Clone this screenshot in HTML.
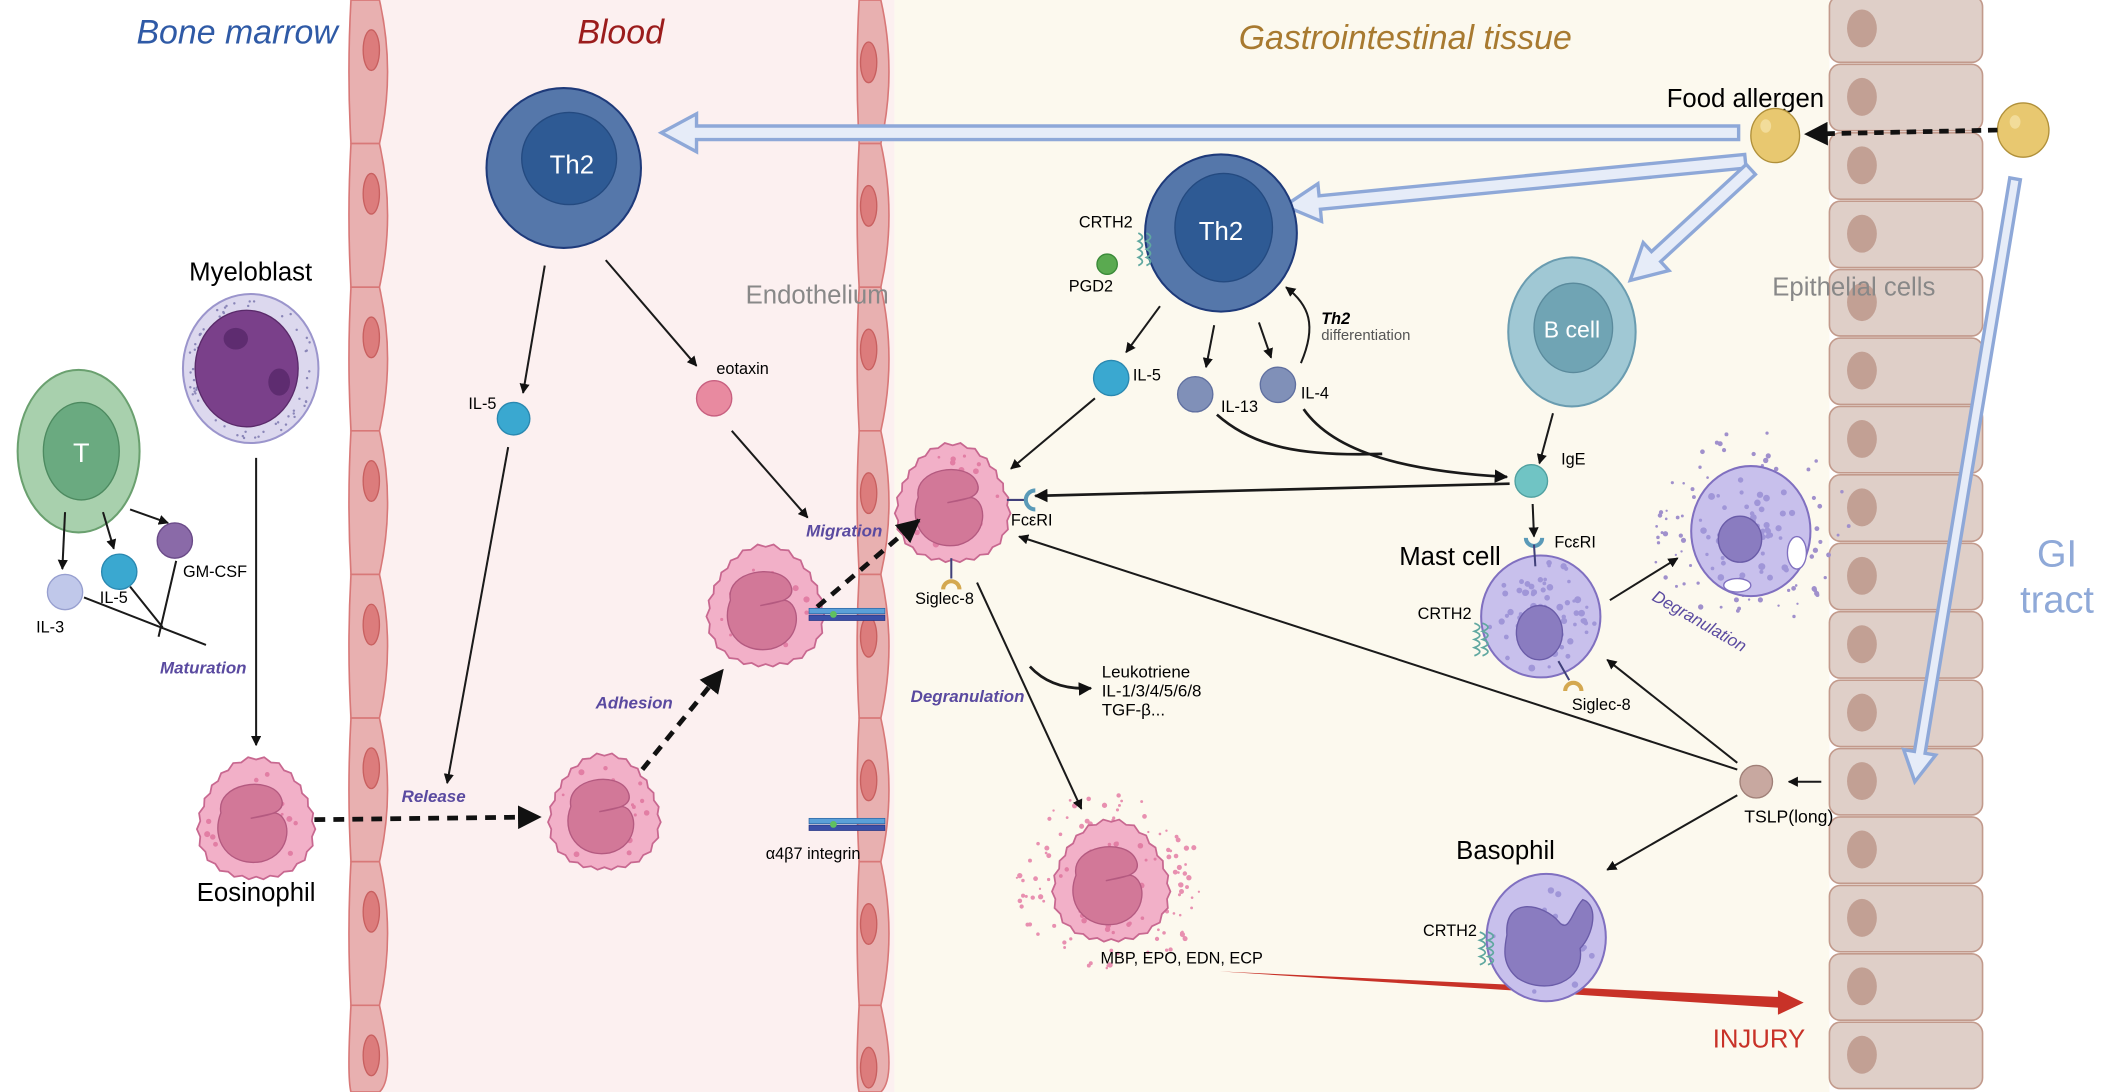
<!DOCTYPE html>
<html><head><meta charset="utf-8"><style>
html,body{margin:0;padding:0;background:#fff;overflow:hidden;width:2114px;height:1092px}
svg{display:block;position:absolute;left:0;top:0;overflow:hidden}
text{font-family:"Liberation Sans",sans-serif}
.it{font-style:italic}
</style></head><body>
<svg id="s" width="2114" height="1092" viewBox="0 0 1560 806" preserveAspectRatio="none" overflow="hidden" xmlns="http://www.w3.org/2000/svg">
<defs>
<marker id="ahb" viewBox="0 0 10 10" refX="9" refY="5" markerWidth="5" markerHeight="5" orient="auto"><path d="M0,0 L10,5 L0,10 z" fill="#111"/></marker>
<clipPath id="cp"><rect x="0" y="0" width="1560" height="806"/></clipPath>
</defs>
<g clip-path="url(#cp)">
<rect x="0" y="0" width="1560" height="806" fill="#fff"/>
<rect x="258" y="0" width="402" height="806" fill="#fcf0f0"/>
<rect x="660" y="0" width="690" height="806" fill="#fcf9ee"/>
<g id="walls"></g>
<g id="epi"></g>

<text x="175" y="32" font-size="25" fill="#2f5aa6" text-anchor="middle" class="it">Bone marrow</text>
<text x="458" y="32" font-size="25" fill="#9b1c1c" text-anchor="middle" class="it">Blood</text>
<text x="1037" y="36" font-size="25" fill="#a87a30" text-anchor="middle" class="it">Gastrointestinal tissue</text>
<text x="603" y="224" font-size="19" fill="#888" text-anchor="middle">Endothelium</text>
<text x="1368" y="218" font-size="19" fill="#888" text-anchor="middle">Epithelial cells</text>
<text x="1518" y="418" font-size="28" fill="#8fa9d8" text-anchor="middle">GI</text>
<text x="1518" y="452" font-size="28" fill="#8fa9d8" text-anchor="middle">tract</text>

<g id="hollow"></g>

<ellipse cx="58" cy="333" rx="45" ry="60" fill="#a8d0ad" stroke="#6aa06f" stroke-width="1.5"/>
<ellipse cx="60" cy="333" rx="28" ry="36" fill="#6aaa80" stroke="#4d8a60"/>
<text x="60" y="341" font-size="20" fill="#fff" text-anchor="middle">T</text>
<line x1="48" y1="378" x2="46" y2="420" stroke="#1a1a1a" stroke-width="1.5" marker-end="url(#ahb)"/>
<line x1="76" y1="378" x2="84" y2="405" stroke="#1a1a1a" stroke-width="1.5" marker-end="url(#ahb)"/>
<line x1="96" y1="376" x2="124" y2="386" stroke="#1a1a1a" stroke-width="1.5" marker-end="url(#ahb)"/>
<circle cx="48" cy="437" r="13" fill="#c0c8ea" stroke="#98a0d0"/>
<circle cx="88" cy="422" r="13" fill="#3aa8d0" stroke="#2a88b0"/>
<circle cx="129" cy="399" r="13" fill="#8a6aa8" stroke="#6a4a88"/>
<text x="37" y="467" font-size="12" text-anchor="middle">IL-3</text>
<text x="84" y="445" font-size="12" text-anchor="middle">IL-5</text>
<text x="135" y="426" font-size="12">GM-CSF</text>
<path d="M62,441 L152,476 M96,433 L120,463 M130,414 L117,470" stroke="#1a1a1a" stroke-width="1.5" fill="none"/>
<text x="150" y="497" font-size="12.5" fill="#5a4aa0" text-anchor="middle" font-weight="bold" class="it">Maturation</text>

<text x="185" y="207" font-size="19" text-anchor="middle">Myeloblast</text>
<ellipse cx="185" cy="272" rx="50" ry="55" fill="#dcd8ee" stroke="#9b95cc" stroke-width="1.5"/>
<g id="mdots"></g>
<ellipse cx="182" cy="272" rx="38" ry="43" fill="#7a408a" stroke="#5a2a6a"/>
<ellipse cx="174" cy="250" rx="9" ry="8" fill="#5e2c70"/>
<ellipse cx="206" cy="282" rx="8" ry="10" fill="#5e2c70"/>
<line x1="189" y1="338" x2="189" y2="550" stroke="#1a1a1a" stroke-width="1.5" marker-end="url(#ahb)"/>
<text x="189" y="665" font-size="19" text-anchor="middle">Eosinophil</text>

<ellipse cx="416" cy="124" rx="57" ry="59" fill="#5577aa" stroke="#1e3a7a" stroke-width="1.5"/>
<ellipse cx="420" cy="117" rx="35" ry="34" fill="#2e5a94" stroke="#244a80"/>
<text x="422" y="128" font-size="19" fill="#fff" text-anchor="middle">Th2</text>
<line x1="402" y1="196" x2="386" y2="290" stroke="#1a1a1a" stroke-width="1.5" marker-end="url(#ahb)"/>
<line x1="447" y1="192" x2="514" y2="270" stroke="#1a1a1a" stroke-width="1.5" marker-end="url(#ahb)"/>
<circle cx="379" cy="309" r="12" fill="#3aa8d0" stroke="#2a88b0"/>
<text x="356" y="302" font-size="12" text-anchor="middle">IL-5</text>
<circle cx="527" cy="294" r="13" fill="#e88aa0" stroke="#c86080"/>
<text x="548" y="276" font-size="12" text-anchor="middle">eotaxin</text>
<line x1="375" y1="330" x2="330" y2="578" stroke="#1a1a1a" stroke-width="1.5" marker-end="url(#ahb)"/>
<line x1="540" y1="318" x2="596" y2="382" stroke="#1a1a1a" stroke-width="1.5" marker-end="url(#ahb)"/>

<g id="eos"></g>

<line x1="232" y1="605" x2="398" y2="603" stroke="#111" stroke-width="3.5" stroke-dasharray="8,6" marker-end="url(#ahb)"/>
<text x="320" y="592" font-size="12.5" fill="#5a4aa0" text-anchor="middle" font-weight="bold" class="it">Release</text>
<line x1="474" y1="568" x2="533" y2="495" stroke="#111" stroke-width="3.5" stroke-dasharray="8,6" marker-end="url(#ahb)"/>
<text x="468" y="523" font-size="12.5" fill="#5a4aa0" text-anchor="middle" font-weight="bold" class="it">Adhesion</text>
<line x1="603" y1="448" x2="678" y2="384" stroke="#111" stroke-width="3.5" stroke-dasharray="8,6" marker-end="url(#ahb)"/>
<text x="623" y="396" font-size="12.5" fill="#5a4aa0" text-anchor="middle" font-weight="bold" class="it">Migration</text>

<g id="integ"></g>
<text x="600" y="634" font-size="12" text-anchor="middle">α4β7 integrin</text>

<ellipse cx="901" cy="172" rx="56" ry="58" fill="#5577aa" stroke="#1e3a7a" stroke-width="1.5"/>
<ellipse cx="903" cy="168" rx="36" ry="40" fill="#2e5a94" stroke="#244a80"/>
<text x="901" y="177" font-size="19" fill="#fff" text-anchor="middle">Th2</text>
<text x="816" y="168" font-size="12" text-anchor="middle">CRTH2</text>
<path d="M840,172 q6,3 0,6 q6,3 0,6 q6,3 0,6 q6,3 0,6 M846,172 q6,3 0,6 q6,3 0,6 q6,3 0,6 q6,3 0,6" stroke="#60a8a0" stroke-width="1.3" fill="none"/>
<circle cx="817" cy="195" r="7.5" fill="#5aaa50" stroke="#3a8a38"/>
<text x="805" y="215" font-size="12" text-anchor="middle">PGD2</text>
<line x1="856" y1="226" x2="831" y2="260" stroke="#1a1a1a" stroke-width="1.5" marker-end="url(#ahb)"/>
<line x1="896" y1="240" x2="890" y2="271" stroke="#1a1a1a" stroke-width="1.5" marker-end="url(#ahb)"/>
<line x1="929" y1="238" x2="938" y2="264" stroke="#1a1a1a" stroke-width="1.5" marker-end="url(#ahb)"/>
<path d="M960,268 C972,240 966,225 949,212" stroke="#1a1a1a" stroke-width="1.5" fill="none" marker-end="url(#ahb)"/>
<text x="975" y="239" font-size="12" font-weight="bold" class="it">Th2</text>
<text x="975" y="251" font-size="11" fill="#555">differentiation</text>
<circle cx="820" cy="279" r="13" fill="#3aa8d0" stroke="#2a88b0"/>
<text x="836" y="281" font-size="12">IL-5</text>
<circle cx="882" cy="291" r="13" fill="#8090b8" stroke="#6070a0"/>
<text x="901" y="304" font-size="12">IL-13</text>
<circle cx="943" cy="284" r="13" fill="#8090b8" stroke="#6070a0"/>
<text x="960" y="294" font-size="12">IL-4</text>
<path d="M898,306 C925,330 960,337 1020,335" stroke="#1a1a1a" stroke-width="2" fill="none"/>
<path d="M962,302 C985,335 1040,348 1112,352" stroke="#1a1a1a" stroke-width="2" fill="none" marker-end="url(#ahb)"/>
<line x1="808" y1="294" x2="746" y2="346" stroke="#1a1a1a" stroke-width="1.5" marker-end="url(#ahb)"/>

<ellipse cx="1160" cy="245" rx="47" ry="55" fill="#a0c8d4" stroke="#6a9cb0" stroke-width="1.5"/>
<ellipse cx="1161" cy="242" rx="29" ry="33" fill="#70a4b4" stroke="#5a8a9c"/>
<text x="1160" y="249" font-size="17" fill="#fff" text-anchor="middle">B cell</text>
<line x1="1146" y1="305" x2="1136" y2="342" stroke="#1a1a1a" stroke-width="1.5" marker-end="url(#ahb)"/>
<circle cx="1130" cy="355" r="12" fill="#70c4c4" stroke="#50a0a0"/>
<text x="1152" y="343" font-size="12">IgE</text>
<line x1="1114" y1="357" x2="764" y2="366" stroke="#1a1a1a" stroke-width="2" marker-end="url(#ahb)"/>
<line x1="1131" y1="372" x2="1132" y2="396" stroke="#1a1a1a" stroke-width="1.5" marker-end="url(#ahb)"/>
<path d="M1126,397 a6,6 0 0 0 12,0" stroke="#5a9ab8" stroke-width="3" fill="none"/>
<text x="1147" y="404" font-size="12">FcεRI</text>
<text x="1070" y="417" font-size="19" text-anchor="middle">Mast cell</text>

<line x1="743" y1="369" x2="756" y2="369" stroke="#40407a" stroke-width="1.5"/>
<path d="M764,362 a7,7 0 0 0 0,14" stroke="#5a9ab8" stroke-width="3" fill="none"/>
<text x="746" y="388" font-size="12">FcεRI</text>
<line x1="702" y1="412" x2="702" y2="427" stroke="#40407a" stroke-width="1.5"/>
<path d="M696,435 a6,6 0 0 1 12,0" stroke="#d4a850" stroke-width="3" fill="none"/>
<text x="697" y="446" font-size="12" text-anchor="middle">Siglec-8</text>
<line x1="721" y1="430" x2="798" y2="597" stroke="#1a1a1a" stroke-width="1.5" marker-end="url(#ahb)"/>
<path d="M760,492 C772,505 788,509 805,508" stroke="#1a1a1a" stroke-width="2" fill="none" marker-end="url(#ahb)"/>
<text x="813" y="500" font-size="12.5">Leukotriene</text>
<text x="813" y="514" font-size="12.5">IL-1/3/4/5/6/8</text>
<text x="813" y="528" font-size="12.5">TGF-β...</text>
<text x="714" y="518" font-size="12.5" fill="#5a4aa0" text-anchor="middle" font-weight="bold" class="it">Degranulation</text>
<text x="872" y="711" font-size="12" text-anchor="middle">MBP, EPO, EDN, ECP</text>
<path d="M900,717 L1315,736 L1315,744 Z" fill="#c83228"/>
<path d="M1312,731 L1331,740 L1312,749 Z" fill="#c83228"/>
<text x="1298" y="773" font-size="19" fill="#c83228" text-anchor="middle">INJURY</text>

<g id="mast"></g>

<line x1="1344" y1="577" x2="1320" y2="577" stroke="#1a1a1a" stroke-width="1.5" marker-end="url(#ahb)"/>
<circle cx="1296" cy="577" r="12" fill="#c8a8a0" stroke="#a08078"/>
<text x="1320" y="607" font-size="13" text-anchor="middle">TSLP(long)</text>
<line x1="1282" y1="563" x2="1186" y2="487" stroke="#1a1a1a" stroke-width="1.5" marker-end="url(#ahb)"/>
<line x1="1282" y1="568" x2="752" y2="396" stroke="#1a1a1a" stroke-width="1.5" marker-end="url(#ahb)"/>
<line x1="1282" y1="587" x2="1186" y2="642" stroke="#1a1a1a" stroke-width="1.5" marker-end="url(#ahb)"/>
<text x="1111" y="634" font-size="19" text-anchor="middle">Basophil</text>

<text x="1288" y="79" font-size="19" text-anchor="middle">Food allergen</text>
<ellipse cx="1310" cy="100" rx="18" ry="20" fill="#e8c870" stroke="#b0903a"/>
<ellipse cx="1303" cy="93" rx="4" ry="5" fill="#f2dc9a"/>
<ellipse cx="1493" cy="96" rx="19" ry="20" fill="#e8c870" stroke="#b0903a"/>
<ellipse cx="1487" cy="90" rx="4" ry="5" fill="#f2dc9a"/>
<line x1="1474" y1="96" x2="1333" y2="99" stroke="#111" stroke-width="3.5" stroke-dasharray="7,5" marker-end="url(#ahb)"/>
</g>
</svg>
<script>
var NS="http://www.w3.org/2000/svg";
function el(p,t,a){var e=document.createElementNS(NS,t);for(var k in a)e.setAttribute(k,a[k]);p.appendChild(e);return e;}
var seed=7;function rnd(){seed=(seed*9301+49297)%233280;return seed/233280;}
var W=document.getElementById("walls");
function wall(x0,x1,start,nuc,cx){
 for(var y=start;y<800;y+=106){
  var y2=Math.min(y+106,806);
  el(W,"path",{d:"M"+(x0)+","+y+" Q"+(x0-3)+","+(y+53)+" "+x0+","+y2+" L"+x1+","+y2+" Q"+(x1+12)+","+(y+53)+" "+x1+","+y+" Z",fill:"#e8b0b0",stroke:"#d87878","stroke-width":1.2});
 }
 for(var i=0;i<8;i++){var cy=nuc+i*106;if(cy<795)el(W,"ellipse",{cx:cx,cy:cy,rx:6,ry:15,fill:"#dc7c7c",stroke:"#c86060"});}
}
wall(259,280,0,37,274);
wall(634,650,0,46,641);
var E=document.getElementById("epi");
for(var y=-4;y<800;y+=50.5){
 var h=Math.min(49,805-y);
 el(E,"rect",{x:1350,y:y+1,width:113,height:h,rx:8,fill:"#dfcfc8",stroke:"#c29a8c","stroke-width":1.2});
 if(y+25<795)el(E,"ellipse",{cx:1374,cy:y+25,rx:11,ry:14,fill:"#c2a094"});
}
var M=document.getElementById("mdots");
for(var i=0;i<60;i++){var a=rnd()*6.283,r=42+rnd()*6;el(M,"circle",{cx:185+Math.cos(a)*r*0.98,cy:272+Math.sin(a)*r*1.08,r:0.9,fill:"#8a86b8"});}
var H=document.getElementById("hollow");
function hollow(x1,y1,x2,y2,w,hw,hl){
 var dx=x2-x1,dy=y2-y1,L=Math.hypot(dx,dy),ux=dx/L,uy=dy/L,px=-uy,py=ux;
 var pts=[[0,w],[L-hl,w],[L-hl,hw],[L,0],[L-hl,-hw],[L-hl,-w],[0,-w]];
 var s=pts.map(function(p){return (x1+ux*p[0]+px*p[1]).toFixed(1)+","+(y1+uy*p[0]+py*p[1]).toFixed(1)}).join(" ");
 el(H,"polygon",{points:s,fill:"#e6ecf8",stroke:"#8ea8d8","stroke-width":2.5,"stroke-linejoin":"miter"});
}
hollow(1283,98,488,98,5,14,26);
hollow(1288,119,948,152,5,14,26);
hollow(1292,125,1203,207,5,14,26);
hollow(1487,132,1413,577,4,12,22);
var EO=document.getElementById("eos");
function eos(cx,cy,r,degr){
 var g=el(EO,"g",{});
 if(degr){for(var i=0;i<90;i++){var a=rnd()*6.283,d=r+4+rnd()*24;el(g,"circle",{cx:cx+Math.cos(a)*d,cy:cy+Math.sin(a)*d,r:0.8+rnd()*1.2,fill:"#e890b0"});}}
 var pts=[];for(var i=0;i<48;i++){var a=i/48*6.283,rr=r*(1+(i%2?0.03:-0.02))*(1+0.05*Math.sin(a*3));pts.push((cx+Math.cos(a)*rr).toFixed(1)+","+(cy+Math.sin(a)*rr*1.05).toFixed(1));}
 el(g,"polygon",{points:pts.join(" "),fill:"#f2b0c8",stroke:"#c86890","stroke-width":1.3});
 for(var i=0;i<40;i++){var a=rnd()*6.283,d=rnd()*r*0.92;el(g,"circle",{cx:cx+Math.cos(a)*d,cy:cy+Math.sin(a)*d,r:1+rnd()*1.4,fill:"#e27ea4"});}
 var k=r/42;
 el(g,"path",{d:"M"+(cx-26*k)+","+(cy-6*k)+" C"+(cx-30*k)+","+(cy-28*k)+" "+(cx+10*k)+","+(cy-34*k)+" "+(cx+18*k)+","+(cy-18*k)+" C"+(cx+24*k)+","+(cy-6*k)+" "+(cx+8*k)+","+(cy-4*k)+" "+(cx-4*k)+","+(cy-2*k)+" L"+(cx+14*k)+","+(cy-6*k)+" C"+(cx+26*k)+","+(cy-4*k)+" "+(cx+28*k)+","+(cy+24*k)+" "+(cx+4*k)+","+(cy+30*k)+" C"+(cx-20*k)+","+(cy+34*k)+" "+(cx-34*k)+","+(cy+14*k)+" "+(cx-26*k)+","+(cy-6*k)+" Z",fill:"#d27898",stroke:"#b45a80","stroke-width":1});
}
eos(189,606,42);eos(446,601,40);eos(565,449,42);eos(703,373,41);eos(820,652,42,true);
var I=document.getElementById("integ");
function integ(x,y){el(I,"rect",{x:x,y:y,width:56,height:4,fill:"#5aa0d8",stroke:"#2a60a0","stroke-width":0.5});el(I,"rect",{x:x,y:y+5,width:56,height:4,fill:"#3a50a8",stroke:"#203080","stroke-width":0.5});el(I,"circle",{cx:x+18,cy:y+4.5,r:2.5,fill:"#60c060"});}
integ(597,449);integ(597,604);
var MC=document.getElementById("mast");
function pcell(cx,cy,rx,ry,n){el(MC,"ellipse",{cx:cx,cy:cy,rx:rx,ry:ry,fill:"#c8c0ec",stroke:"#8070c0","stroke-width":1.5});for(var i=0;i<n;i++){var a=rnd()*6.283,d=rnd()*0.92;el(MC,"circle",{cx:cx+Math.cos(a)*d*rx,cy:cy+Math.sin(a)*d*ry,r:1.2+rnd()*1.4,fill:"#a096d8"});}}
pcell(1137,455,44,45,90);
el(MC,"ellipse",{cx:1136,cy:467,rx:17,ry:20,fill:"#8a7cc0",stroke:"#6a5ca8"});
el(MC,"line",{x1:1132,y1:402,x2:1133,y2:418,stroke:"#40407a","stroke-width":1.5});
el(MC,"line",{x1:1150,y1:488,x2:1158,y2:502,stroke:"#40407a","stroke-width":1.5});
el(MC,"path",{d:"M1155,510 a6,6 0 0 1 12,0",stroke:"#d4a850","stroke-width":3,fill:"none"});
var t=el(MC,"text",{x:1160,y:524,"font-size":12});t.textContent="Siglec-8";
t=el(MC,"text",{x:1066,y:457,"font-size":12,"text-anchor":"middle"});t.textContent="CRTH2";
el(MC,"path",{d:"M1088,460 q8,3 0,6 q8,3 0,6 q8,3 0,6 q8,3 0,6 M1094,460 q8,3 0,6 q8,3 0,6 q8,3 0,6 q8,3 0,6",stroke:"#60a8a0","stroke-width":1.3,fill:"none"});
for(var i=0;i<70;i++){var a=rnd()*6.283,d=48+rnd()*26;el(MC,"circle",{cx:1292+Math.cos(a)*d,cy:392+Math.sin(a)*d,r:0.8+rnd()*1.2,fill:"#a090cc"});}
pcell(1292,392,44,48,70);
el(MC,"ellipse",{cx:1284,cy:398,rx:16,ry:17,fill:"#8a7cc0",stroke:"#6a5ca8"});
el(MC,"ellipse",{cx:1326,cy:408,rx:7,ry:12,fill:"#fff",stroke:"#8070c0"});
el(MC,"ellipse",{cx:1282,cy:432,rx:10,ry:5,fill:"#fff",stroke:"#8070c0"});
el(MC,"line",{x1:1188,y1:443,x2:1238,y2:412,stroke:"#1a1a1a","stroke-width":1.5,"marker-end":"url(#ahb)"});
t=el(MC,"text",{x:1252,y:462,"font-size":12.5,fill:"#5a4aa0","text-anchor":"middle","font-style":"italic",transform:"rotate(30 1252 462)"});t.textContent="Degranulation";
pcell(1141,692,44,47,40);
el(MC,"path",{d:"M1112,690 C1110,660 1140,668 1150,680 C1158,690 1160,672 1168,664 C1180,668 1176,690 1166,700 C1170,725 1140,735 1120,722 C1108,712 1110,700 1112,690 Z",fill:"#8a7cc0",stroke:"#6a5ca8"});
t=el(MC,"text",{x:1070,y:691,"font-size":12,"text-anchor":"middle"});t.textContent="CRTH2";
el(MC,"path",{d:"M1092,688 q8,3 0,6 q8,3 0,6 q8,3 0,6 q8,3 0,6 M1098,688 q8,3 0,6 q8,3 0,6 q8,3 0,6 q8,3 0,6",stroke:"#60a8a0","stroke-width":1.3,fill:"none"});
</script>
</body></html>
